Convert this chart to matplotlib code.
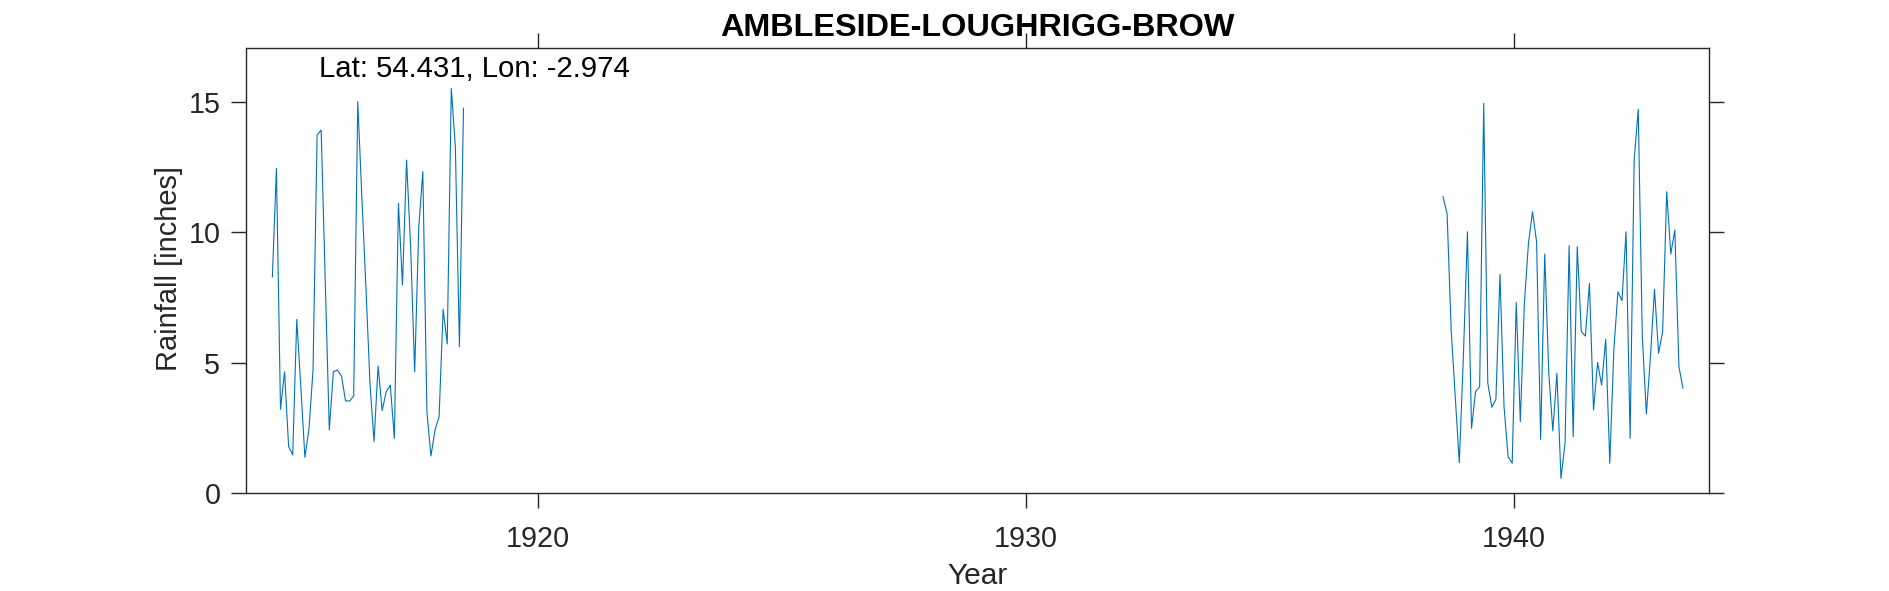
import numpy as np
import matplotlib
matplotlib.use("Agg")
import matplotlib.pyplot as plt

# monthly rainfall, two separate record periods
start_1 = 1914.56
rain_1 = [8.29, 12.45, 3.21, 4.65, 1.78, 1.46, 6.66, 4.08, 1.37, 2.45, 4.72, 13.73,
          13.92, 8.17, 2.42, 4.65, 4.72, 4.48, 3.53, 3.53, 3.72, 15.01, 11.37, 7.91,
          4.22, 1.97, 4.87, 3.16, 3.89, 4.14, 2.10, 11.11, 7.98, 12.77, 9.45, 4.65,
          10.20, 12.33, 3.12, 1.42, 2.42, 2.93, 7.05, 5.72, 15.52, 13.28, 5.61, 14.76]

start_2 = 1938.55
rain_2 = [11.37, 10.70, 6.25, 3.69, 1.16, 5.23, 10.02, 2.48, 3.89, 4.08, 14.95, 4.22,
          3.29, 3.59, 8.39, 3.31, 1.39, 1.14, 7.31, 2.73, 7.27, 9.58, 10.79, 9.64,
          2.06, 9.17, 4.59, 2.38, 4.59, 0.56, 1.91, 9.49, 2.16, 9.45, 6.19, 6.02,
          8.04, 3.18, 5.01, 4.14, 5.90, 1.14, 5.49, 7.72, 7.38, 10.02, 2.10, 12.77,
          14.72, 6.00, 3.03, 5.23, 7.81, 5.36, 6.19, 11.56, 9.17, 10.09, 4.85, 4.02]

x_ticks = [1920, 1930, 1940]
y_ticks = [0, 5, 10, 15]

plt.rcParams["font.family"] = ["Liberation Sans", "DejaVu Sans"]
dark = "#262626"

fig = plt.figure(figsize=(18.9, 5.91), dpi=100)
ax = fig.add_axes([246.5 / 1890, 1 - 493 / 591, (1709 - 246.5) / 1890, (493 - 47.5) / 591])

# the line is broken between the two periods
ax.plot(start_1 + np.arange(len(rain_1)) / 12, rain_1, color="#0072BD", lw=0.8)
ax.plot(start_2 + np.arange(len(rain_2)) / 12, rain_2, color="#0072BD", lw=0.8)

ax.set_xlim(1914.03, 1944.0)
ax.set_ylim(0, 17.09)
ax.set_xticks(x_ticks)
ax.set_yticks(y_ticks)
ax.tick_params(axis="both", direction="out", length=10.8, width=1.0, color=dark,
               labelcolor=dark, labelsize=20.7, top=True, right=True)
ax.tick_params(axis="x", pad=12)
ax.tick_params(axis="y", pad=8)
for s in ax.spines.values():
    s.set_color(dark)
    s.set_linewidth(1.0)

ax.set_title("AMBLESIDE-LOUGHRIGG-BROW", fontsize=23.3, fontweight="bold", color="black", pad=8)
ax.set_xlabel("Year", fontsize=21.5, color=dark, labelpad=7)
ax.set_ylabel("Rainfall [inches]", fontsize=20.9, color=dark, labelpad=4, y=0.505)
ax.text(1915.51, 16.26, "Lat: 54.431, Lon: -2.974", fontsize=21.15, color="black", va="center")

fig.savefig("out.png", dpi=100)
